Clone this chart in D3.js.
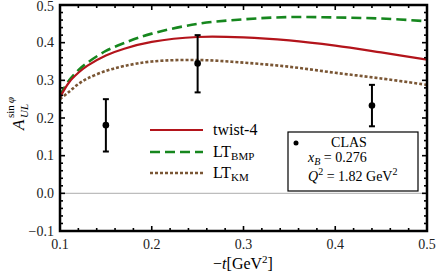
<!DOCTYPE html>
<html>
<head>
<meta charset="utf-8">
<style>
  body { margin: 0; background: #fff; }
  text { font-family: "Liberation Serif", "DejaVu Serif", "Times New Roman", Times, serif; }
</style>
</head>
<body>
<svg width="436" height="276"></svg>
<script src="https://d3js.org/d3.v7.min.js"></script>
<script>
// -t values of the model curves
var tGrid = [0.1, 0.11, 0.12, 0.13, 0.15, 0.17, 0.2, 0.25, 0.3, 0.35, 0.4, 0.45, 0.5];
// twist-4
var twist4 = [0.255, 0.295, 0.320, 0.339, 0.366, 0.384, 0.402, 0.415, 0.414, 0.406, 0.392, 0.374, 0.355];
// LT_BMP
var ltBMP = [0.26, 0.300, 0.327, 0.347, 0.378, 0.399, 0.424, 0.450, 0.462, 0.468, 0.467, 0.464, 0.457];
// LT_KM
var ltKM = [0.25, 0.270, 0.290, 0.305, 0.325, 0.338, 0.350, 0.354, 0.347, 0.336, 0.320, 0.305, 0.288];

// CLAS data
var clasT = [0.15, 0.25, 0.44];
var clasA = [0.181, 0.345, 0.233];
var clasLo = [0.111, 0.268, 0.178];
var clasHi = [0.250, 0.420, 0.288];

var xTicks = [0.1, 0.2, 0.3, 0.4, 0.5];
var yTicks = [-0.1, 0.0, 0.1, 0.2, 0.3, 0.4, 0.5];

var svg = d3.select("svg");
var pL = 60, pR = 427, pT = 5, pB = 231;

var x = d3.scaleLinear().domain([0.1, 0.5]).range([pL, pR]);
var y = d3.scaleLinear().domain([-0.1, 0.5]).range([pB, pT]);

// zero line
svg.append("line")
    .attr("x1", pL).attr("x2", pR)
    .attr("y1", y(0)).attr("y2", y(0))
    .attr("stroke", "#bdbdbd").attr("stroke-width", 1.2);

// curves
var line = d3.line()
    .x(function(d) { return x(d[0]); })
    .y(function(d) { return y(d[1]); })
    .curve(d3.curveCatmullRom.alpha(0.5));

var series = [
    { name: "twist-4", vals: twist4, color: "#b3141b", dash: null, w: 2.2 },
    { name: "LT_BMP", vals: ltBMP, color: "#16871e", dash: "10,5", w: 2.6 },
    { name: "LT_KM", vals: ltKM, color: "#7a5634", dash: "3,2", w: 2.6 }
];

svg.append("clipPath").attr("id", "clip")
    .append("rect").attr("x", pL).attr("y", pT)
    .attr("width", pR - pL).attr("height", pB - pT);

series.slice().reverse().forEach(function(s) {
    svg.append("path")
        .datum(tGrid.map(function(t, i) { return [t, s.vals[i]]; }))
        .attr("d", line)
        .attr("fill", "none")
        .attr("stroke", s.color)
        .attr("stroke-width", s.w)
        .attr("stroke-dasharray", s.dash)
        .attr("clip-path", "url(#clip)");
});

// data points with error bars
clasT.forEach(function(t, i) {
    var g = svg.append("g").attr("stroke", "#000").attr("stroke-width", 2);
    g.append("line").attr("x1", x(t)).attr("x2", x(t)).attr("y1", y(clasLo[i])).attr("y2", y(clasHi[i]));
    g.append("line").attr("x1", x(t) - 3).attr("x2", x(t) + 3).attr("y1", y(clasLo[i])).attr("y2", y(clasLo[i]));
    g.append("line").attr("x1", x(t) - 3).attr("x2", x(t) + 3).attr("y1", y(clasHi[i])).attr("y2", y(clasHi[i]));
    svg.append("circle").attr("cx", x(t)).attr("cy", y(clasA[i])).attr("r", 3.3).attr("fill", "#000");
});

// ticks on all four sides, pointing inward
var minorX = d3.range(0.1, 0.5001, 0.02);
var minorY = d3.range(-0.1, 0.5001, 0.02);
var tk = svg.append("g").attr("stroke", "#000").attr("stroke-width", 1.6);
minorX.forEach(function(v) {
    var major = Math.abs(v * 10 - Math.round(v * 10)) < 1e-6;
    var len = major ? 5 : 3;
    tk.append("line").attr("x1", x(v)).attr("x2", x(v)).attr("y1", pB).attr("y2", pB - len);
    tk.append("line").attr("x1", x(v)).attr("x2", x(v)).attr("y1", pT).attr("y2", pT + len);
});
minorY.forEach(function(v) {
    var major = Math.abs(v * 10 - Math.round(v * 10)) < 1e-6;
    var len = major ? 5 : 3;
    tk.append("line").attr("x1", pL).attr("x2", pL + len).attr("y1", y(v)).attr("y2", y(v));
    tk.append("line").attr("x1", pR).attr("x2", pR - len).attr("y1", y(v)).attr("y2", y(v));
});

// frame
svg.append("rect")
    .attr("x", pL).attr("y", pT)
    .attr("width", pR - pL).attr("height", pB - pT)
    .attr("fill", "none").attr("stroke", "#000").attr("stroke-width", 2.5);

// tick labels
svg.selectAll(".xl").data(xTicks).enter().append("text")
    .attr("x", function(d) { return x(d); })
    .attr("y", 249)
    .attr("text-anchor", "middle")
    .attr("font-size", 14)
    .attr("fill", "#222")
    .text(function(d) { return d3.format(".1f")(d); });

svg.selectAll(".yl").data(yTicks).enter().append("text")
    .attr("x", 54)
    .attr("y", function(d) { return Math.max(y(d) + 4.5, 11); })
    .attr("text-anchor", "end")
    .attr("font-size", 14)
    .attr("fill", "#222")
    .text(function(d) { return d3.format(".1f")(d).replace("-", "\u2212"); });

// axis titles
var xt = svg.append("text").attr("x", 243).attr("y", 269).attr("text-anchor", "middle").attr("font-size", 16);
xt.append("tspan").text("\u2212");
xt.append("tspan").attr("font-style", "italic").text("t");
xt.append("tspan").text("[GeV");
xt.append("tspan").attr("font-size", 11).attr("dy", -6).text("2");
xt.append("tspan").attr("dy", 6).text("]");

var yg = svg.append("g").attr("transform", "translate(24,130) rotate(-90)");
yg.append("text").attr("x", 0).attr("y", 0).attr("font-size", 17).attr("font-style", "italic").text("A");
yg.append("text").attr("x", 12).attr("y", 4).attr("font-size", 11).attr("font-style", "italic").text("UL");
var sup = yg.append("text").attr("x", 12).attr("y", -10).attr("font-size", 11);
sup.append("tspan").text("sin\u2009");
sup.append("tspan").attr("font-style", "italic").text("\u03c6");

// legend for curves
var legY = [130, 152, 173];
series.forEach(function(s, i) {
    svg.append("line")
        .attr("x1", 150).attr("x2", 203)
        .attr("y1", legY[i]).attr("y2", legY[i])
        .attr("stroke", s.color).attr("stroke-width", s.w)
        .attr("stroke-dasharray", s.dash);
    var t = svg.append("text").attr("x", 213).attr("y", legY[i] + 5).attr("font-size", 16);
    if (i === 0) {
        t.text("twist-4");
    } else {
        t.append("tspan").text("LT");
        t.append("tspan").attr("font-size", 11).attr("dy", 3).text(i === 1 ? "BMP" : "KM");
    }
});

// data legend box
svg.append("rect")
    .attr("x", 288).attr("y", 132).attr("width", 130).attr("height", 59)
    .attr("fill", "#fff").attr("stroke", "#000").attr("stroke-width", 1.2);
svg.append("circle").attr("cx", 296).attr("cy", 143).attr("r", 2.5).attr("fill", "#000");
svg.append("text").attr("x", 349).attr("y", 147).attr("text-anchor", "middle").attr("font-size", 14).text("CLAS");
var xb = svg.append("text").attr("x", 308).attr("y", 162).attr("font-size", 14);
xb.append("tspan").attr("font-style", "italic").text("x");
xb.append("tspan").attr("font-style", "italic").attr("font-size", 10).attr("dy", 3).text("B");
xb.append("tspan").attr("dy", -3).text(" = 0.276");
var q2 = svg.append("text").attr("x", 308).attr("y", 181).attr("font-size", 14);
q2.append("tspan").attr("font-style", "italic").text("Q");
q2.append("tspan").attr("font-size", 10).attr("dy", -6).text("2");
q2.append("tspan").attr("dy", 6).text(" = 1.82 GeV");
q2.append("tspan").attr("font-size", 10).attr("dy", -6).text("2");
</script>
</body>
</html>
